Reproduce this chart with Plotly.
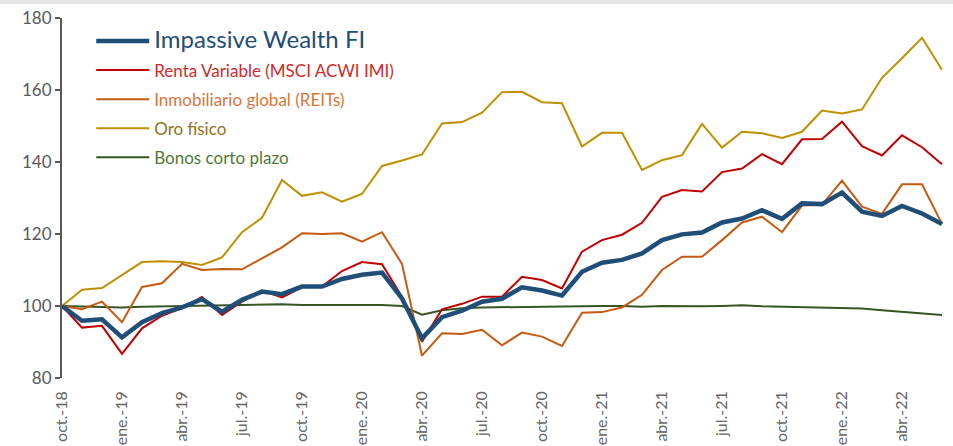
import plotly.graph_objects as go

months = ["oct.-18","nov.-18","dic.-18","ene.-19","feb.-19","mar.-19","abr.-19","may.-19","jun.-19",
          "jul.-19","ago.-19","sept.-19","oct.-19","nov.-19","dic.-19","ene.-20","feb.-20","mar.-20",
          "abr.-20","may.-20","jun.-20","jul.-20","ago.-20","sept.-20","oct.-20","nov.-20","dic.-20",
          "ene.-21","feb.-21","mar.-21","abr.-21","may.-21","jun.-21","jul.-21","ago.-21","sept.-21",
          "oct.-21","nov.-21","dic.-21","ene.-22","feb.-22","mar.-22","abr.-22","may.-22","jun.-22"]

tick_labels = months[::3]

impassive = [100, 95.9, 96.3, 91.3, 95.5, 98.0, 99.6, 101.9, 98.4, 101.7, 104.0, 103.3, 105.4,
             105.4, 107.5, 108.7, 109.3, 102.1, 91.0, 96.9, 98.7, 101.2, 102.0, 105.2, 104.3,
             102.9, 109.5, 112.0, 112.8, 114.6, 118.3, 119.9, 120.4, 123.2, 124.3, 126.6, 124.2,
             128.5, 128.3, 131.5, 126.2, 125.0, 127.8, 125.7, 122.8]

renta = [100, 94.0, 94.5, 86.7, 93.8, 97.3, 99.4, 102.5, 97.5, 101.2, 104.3, 102.4, 105.2,
         105.4, 109.7, 112.2, 111.6, 102.6, 90.1, 99.1, 100.6, 102.6, 102.6, 108.1, 107.2,
         104.9, 115.1, 118.3, 119.8, 123.1, 130.3, 132.2, 131.8, 137.2, 138.2, 142.2, 139.4,
         146.3, 146.4, 151.2, 144.4, 141.8, 147.4, 144.1, 139.4]

reits = [100, 99.1, 101.2, 95.5, 105.3, 106.3, 111.7, 110.0, 110.3, 110.2, 113.2, 116.3, 120.2,
         120.0, 120.2, 117.9, 120.5, 111.7, 86.2, 92.4, 92.2, 93.4, 89.1, 92.6, 91.5,
         88.9, 98.1, 98.3, 99.6, 103.1, 110.0, 113.7, 113.7, 118.3, 123.2, 124.8, 120.5,
         127.9, 128.1, 134.8, 127.6, 125.6, 133.8, 133.8, 122.8]

oro = [100, 104.5, 105.0, 108.5, 112.2, 112.4, 112.2, 111.4, 113.5, 120.5, 124.5, 135.0, 130.6,
       131.6, 129.0, 131.1, 138.9, 140.4, 142.1, 150.7, 151.1, 153.7, 159.4, 159.5, 156.6,
       156.3, 144.3, 148.1, 148.1, 137.8, 140.5, 141.9, 150.6, 144.0, 148.4, 148.0, 146.7,
       148.4, 154.3, 153.5, 154.6, 163.4, 168.8, 174.5, 165.6]

bonos = [100, 99.9, 99.7, 99.6, 99.8, 99.9, 100.0, 100.2, 100.3, 100.4, 100.5, 100.5, 100.3,
         100.2, 100.3, 100.3, 100.3, 100.0, 97.6, 98.8, 99.4, 99.6, 99.7, 99.8, 99.8,
         99.9, 100.0, 100.0, 100.0, 99.8, 100.0, 99.9, 99.9, 100.0, 100.2, 99.9, 99.8,
         99.7, 99.6, 99.6, 99.3, 98.8, 98.4, 97.8, 97.5]

series = [
    ("Impassive Wealth FI", impassive, "#1f4e79", 4.5, "#1f4e79", 24),
    ("Renta Variable (MSCI ACWI IMI)", renta, "#c00000", 2, "#d02a2a", 17),
    ("Inmobiliario global (REITs)", reits, "#c55a11", 2, "#d9773a", 17),
    ("Oro físico", oro, "#bf9000", 2, "#8f7320", 17),
    ("Bonos corto plazo", bonos, "#375623", 2, "#4f7a3b", 17),
]

fig = go.Figure()
for idx, (name, vals, col, w, tcol, fs) in enumerate(series):
    fig.add_trace(go.Scatter(
        x=months, y=vals, mode="lines",
        name=f'<span style="color:{tcol};font-size:{fs}px">{name}</span>',
        line=dict(color=col, width=w), legendrank=idx + 1, legendgroup=f"g{idx}",
    ))
# draw the fund line on top
fig.data = tuple(reversed(fig.data))

fig.update_layout(
    width=953, height=446,
    margin=dict(l=62, r=5, t=18, b=68),
    paper_bgcolor="white", plot_bgcolor="white",
    font=dict(family="Lato, sans-serif", size=15, color="#595959"),
    showlegend=True,
    legend=dict(x=0.033, y=0.985, xanchor="left", yanchor="top", bgcolor="rgba(0,0,0,0)",
                itemwidth=53, tracegroupgap=4, font=dict(size=17),
                traceorder="grouped"),
    xaxis=dict(type="category", range=[0, 44.3], tickmode="array", tickvals=tick_labels,
               ticktext=tick_labels, tickangle=-90, showgrid=False, showline=False,
               ticks="", automargin=False, ticklabelstandoff=9,
               tickfont=dict(size=16, color="#666666")),
    yaxis=dict(range=[80, 180], tickvals=[80, 100, 120, 140, 160, 180], showgrid=False,
               showline=True, linecolor="#595959", linewidth=2, ticks="outside", ticklen=5,
               tickwidth=2, tickcolor="#595959", zeroline=False, automargin=False,
               tickfont=dict(size=17, color="#595959")),
    shapes=[dict(type="rect", xref="paper", yref="paper", x0=-0.1, x1=1.1,
                 y0=1 + 14/360, y1=1 + 18/360,
                 fillcolor="#e6e6e6", line=dict(width=0), layer="above")],
)

fig.write_html("out.html", config={"displayModeBar": False},
               post_script="document.body.style.margin='0';")
